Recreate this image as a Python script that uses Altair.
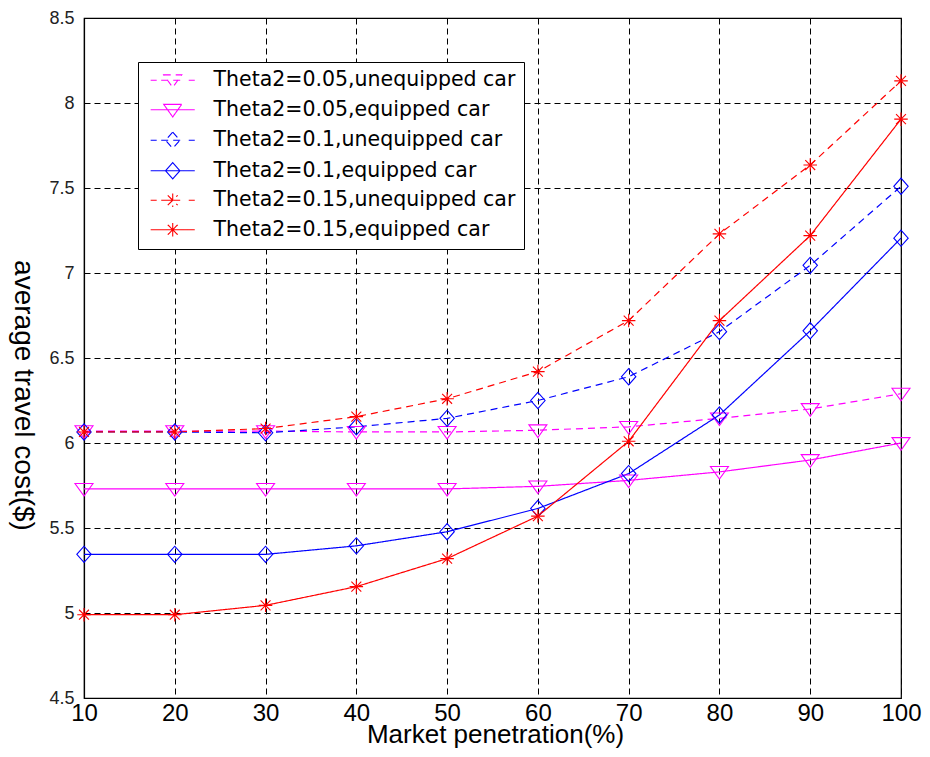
import altair as alt
import pandas as pd

# ---------------- data ----------------
x_vals = [10, 20, 30, 40, 50, 60, 70, 80, 90, 100]

series_names = [
    "Theta2=0.05,unequipped car",
    "Theta2=0.05,equipped car",
    "Theta2=0.1,unequipped car",
    "Theta2=0.1,equipped car",
    "Theta2=0.15,unequipped car",
    "Theta2=0.15,equipped car",
]

t005_unequipped = [6.07, 6.07, 6.07, 6.065, 6.065, 6.075, 6.095, 6.145, 6.20, 6.29]
t005_equipped = [5.73, 5.73, 5.73, 5.73, 5.73, 5.745, 5.78, 5.83, 5.90, 6.00]
t010_unequipped = [6.065, 6.065, 6.06, 6.095, 6.145, 6.25, 6.39, 6.655, 7.045, 7.51]
t010_equipped = [5.345, 5.345, 5.345, 5.395, 5.478, 5.615, 5.82, 6.165, 6.66, 7.205]
t015_unequipped = [6.065, 6.065, 6.085, 6.155, 6.26, 6.42, 6.72, 7.23, 7.635, 8.13]
t015_equipped = [4.99, 4.99, 5.045, 5.155, 5.32, 5.57, 6.01, 6.72, 7.22, 7.905]

series_values = [t005_unequipped, t005_equipped, t010_unequipped,
                 t010_equipped, t015_unequipped, t015_equipped]

y_ticks = [4.5, 5, 5.5, 6, 6.5, 7, 7.5, 8, 8.5]

# ---------------- styles ----------------
colors = ["#ff00ff", "#ff00ff", "#0000ff", "#0000ff", "#ff0000", "#ff0000"]
dashes = [[7, 5], [1, 0], [7, 5], [1, 0], [7, 5], [1, 0]]
marker_kind = ["tri", "tri", "dia", "dia", "star", "star"]


def marker_path(kind, cx=0.0):
    if kind == "tri":
        return f"M{cx-1:.2f},-0.6L{cx+1:.2f},-0.6L{cx:.2f},0.8Z"
    if kind == "dia":
        return f"M{cx:.2f},-0.9L{cx+0.8:.2f},0L{cx:.2f},0.9L{cx-0.8:.2f},0Z"
    return (f"M{cx-0.75:.2f},0L{cx+0.75:.2f},0M{cx:.2f},-0.75L{cx:.2f},0.75"
            f"M{cx-0.55:.2f},-0.55L{cx+0.55:.2f},0.55M{cx-0.55:.2f},0.55L{cx+0.55:.2f},-0.55")


M = 1.83  # marker centre inside legend symbol (in symbol-radius units)
HALF = 2.45


def legend_path(kind, dashed):
    if dashed:
        segs = [(M - HALF, M - HALF + 0.67), (M - 1.28, M + 1.28), (M + HALF - 0.67, M + HALF)]
    else:
        segs = [(M - HALF, M + HALF)]
    line = "".join(f"M{a:.2f},0H{b:.2f}" for a, b in segs)
    return line + marker_path(kind, M)


legend_paths = [legend_path(k, d[1] != 0) for k, d in zip(marker_kind, dashes)]

rows = []
for name, vals in zip(series_names, series_values):
    for xv, yv in zip(x_vals, vals):
        rows.append({"x": xv, "y": yv, "series": name})
df = pd.DataFrame(rows)

FONT = "Liberation Sans"

x_enc = alt.X(
    "x:Q",
    scale=alt.Scale(domain=[10, 100], nice=False, zero=False),
    axis=alt.Axis(
        values=x_vals, title="Market penetration(%)", grid=True, ticks=False,
        labelFont=FONT, labelFontSize=24, labelColor="black", labelPadding=3,
        labelFlush=False, labelOverlap=False,
        titleFont=FONT, titleFontSize=26, titleFontWeight="normal", titleColor="black",
        titleX=411, titleY=44, titleBaseline="alphabetic", titleAlign="center",
    ),
)
y_enc = alt.Y(
    "y:Q",
    scale=alt.Scale(domain=[4.5, 8.5], nice=False, zero=False),
    axis=alt.Axis(
        values=y_ticks, format="~g", title="average travel cost($)", grid=True, ticks=False,
        labelFont=FONT, labelFontSize=18, labelColor="#222", labelPadding=10,
        labelFlush=False, labelOverlap=False,
        titleFont=FONT, titleFontSize=28, titleFontWeight="normal", titleColor="black",
        titleAngle=90, titleX=-62, titleY=377, titleBaseline="middle", titleAlign="center",
    ),
)

color_scale = alt.Scale(domain=series_names, range=colors)

base = alt.Chart(df)

legend_opts = dict(
    orient="none", legendX=54, legendY=44, title=None,
    fillColor="white", strokeColor="black", padding=8, cornerRadius=0,
    labelFont="DejaVu Sans", labelFontSize=20.5, labelColor="black", labelOffset=47,
    labelLimit=1000, rowPadding=8.5, symbolSize=324, symbolStrokeWidth=1.1, symbolOpacity=1,
)

# invisible layer that only carries the legend (first, so its legend settings win)
legend_layer = base.mark_point(filled=False, opacity=0, size=324).encode(
    x=x_enc, y=y_enc,
    color=alt.Color("series:N", scale=color_scale, legend=alt.Legend(**legend_opts)),
    shape=alt.Shape("series:N", scale=alt.Scale(domain=series_names, range=legend_paths),
                    legend=alt.Legend(**legend_opts)),
)

lines = base.mark_line(strokeWidth=1.2).encode(
    x=x_enc, y=y_enc,
    color=alt.Color("series:N", scale=color_scale),
    strokeDash=alt.StrokeDash("series:N", scale=alt.Scale(domain=series_names, range=dashes), legend=None),
)

point_layers = []
for kind in ["tri", "dia", "star"]:
    members = [n for n, k in zip(series_names, marker_kind) if k == kind]
    point_layers.append(
        base.transform_filter(alt.FieldOneOfPredicate(field="series", oneOf=members))
        .mark_point(shape=marker_path(kind), size=324, filled=False, strokeWidth=1.1, opacity=1)
        .encode(x=x_enc, y=y_enc, color=alt.Color("series:N", scale=color_scale))
    )

chart = alt.layer(legend_layer, lines, *point_layers).properties(
    width=817, height=680,
    padding={"left": 76, "top": 10, "right": 21, "bottom": 50},
    autosize=alt.AutoSizeParams(type="none"),
    background="white",
).configure_view(
    stroke="black", strokeWidth=1.2
).configure_axis(
    domainColor="black", domainWidth=1.2,
    gridColor="black", gridDash=[6, 4], gridWidth=1, gridOpacity=1,
)

chart.save("out.html", embed_options={"renderer": "svg", "actions": False})
